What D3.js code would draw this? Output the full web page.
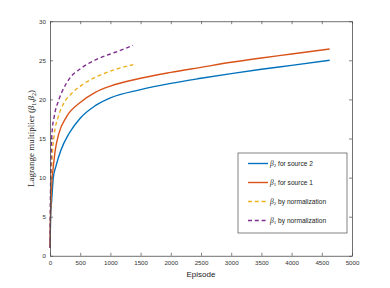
<!DOCTYPE html>
<html>
<head>
<meta charset="utf-8">
<script src="https://cdn.jsdelivr.net/npm/d3@7"></script>
<style>
    body { margin: 0; background: #fff; }
    svg { display: block; }
</style>
</head>
<body>
<div id="chart"></div>
<script>
// values
const src2Episodes = [0, 10, 28, 55, 100, 180, 320, 500, 750, 1000, 1500, 2000, 2500, 3000, 3500, 4000, 4630];
const src2Beta = [1.0, 5.0, 7.1, 10.0, 11.5, 13.5, 15.7, 17.6, 19.2, 20.2, 21.25, 22.05, 22.7, 23.3, 23.85, 24.35, 25.0];

const src1Episodes = [0, 8, 17, 30, 55, 85, 145, 275, 500, 750, 1000, 1500, 2000, 2500, 3000, 3500, 4000, 4630];
const src1Beta = [1.0, 5.0, 7.1, 9.5, 11.4, 13.4, 15.6, 17.8, 19.6, 20.9, 21.7, 22.7, 23.45, 24.1, 24.75, 25.3, 25.8, 26.45];

const norm2Episodes = [0, 10, 28, 70, 130, 220, 350, 520, 800, 1070, 1380];
const norm2Beta = [1.0, 7.0, 11.4, 15.5, 17.6, 19.4, 20.7, 21.8, 23.0, 23.8, 24.45];

const norm1Episodes = [0, 8, 33, 72, 144, 200, 326, 518, 795, 1071, 1375];
const norm1Beta = [1.0, 8.0, 15.7, 17.9, 19.9, 21.0, 22.7, 24.0, 25.2, 26.0, 26.9];

const xTicks = [0, 500, 1000, 1500, 2000, 2500, 3000, 3500, 4000, 4500, 5000];
const yTicks = [0, 5, 10, 15, 20, 25, 30];

const seriesNames = ["2", "1", "2", "1"];
const seriesText = [" for source 2", " for source 1", " by normalization", " by normalization"];
const seriesColors = ["#0072BD", "#D95319", "#EDB120", "#7E2F8E"];
const seriesDashed = [false, false, true, true];

const series = [
    { xs: src2Episodes, ys: src2Beta },
    { xs: src1Episodes, ys: src1Beta },
    { xs: norm2Episodes, ys: norm2Beta },
    { xs: norm1Episodes, ys: norm1Beta },
].map((s, i) => ({
    points: s.xs.map((x, j) => [x, s.ys[j]]),
    sub: seriesNames[i],
    text: seriesText[i],
    color: seriesColors[i],
    dashed: seriesDashed[i],
}));

const width = 390, height = 288;
const margin = { top: 21.2, right: 38, bottom: 32.2, left: 50 };
const axisColor = "#4d4d4d";
const sansFont = "'Liberation Sans', Arial, sans-serif";
const serifFont = "'Liberation Serif', 'DejaVu Serif', serif";

const svg = d3.select("#chart")
    .append("svg")
    .attr("width", width)
    .attr("height", height);

const x = d3.scaleLinear().domain([0, 5000]).range([margin.left, width - margin.right]);
const y = d3.scaleLinear().domain([0, 30]).range([height - margin.bottom, margin.top]);

// curves first, the box and ticks go on top
const line = d3.line()
    .x((d) => x(d[0]))
    .y((d) => y(d[1]))
    .curve(d3.curveMonotoneX);

svg.append("g")
    .selectAll("path")
    .data(series)
    .join("path")
    .attr("d", (d) => line(d.points))
    .attr("fill", "none")
    .attr("stroke", (d) => d.color)
    .attr("stroke-width", 1.4)
    .attr("stroke-dasharray", (d) => (d.dashed ? "4,2.8" : null));

// axes with inward ticks on all four sides
function styleAxis(g) {
    g.select(".domain").attr("stroke", axisColor).attr("stroke-width", 0.8);
    g.selectAll(".tick line").attr("stroke", axisColor).attr("stroke-width", 0.7);
    g.selectAll(".tick text")
        .attr("fill", "#333")
        .style("font-family", sansFont)
        .style("font-size", "6.2px");
}

svg.append("g")
    .attr("transform", `translate(0,${y(0)})`)
    .call(d3.axisBottom(x).tickValues(xTicks).tickFormat(d3.format("d"))
        .tickSize(-3).tickPadding(4).tickSizeOuter(0))
    .call(styleAxis)
    .selectAll(".tick text").attr("dy", "0.9em");

svg.append("g")
    .attr("transform", `translate(0,${y(30)})`)
    .call(d3.axisTop(x).tickValues(xTicks).tickSize(-3).tickFormat("").tickSizeOuter(0))
    .call(styleAxis);

svg.append("g")
    .attr("transform", `translate(${x(0)},0)`)
    .call(d3.axisLeft(y).tickValues(yTicks).tickSize(-3).tickPadding(4).tickSizeOuter(0))
    .call(styleAxis);

svg.append("g")
    .attr("transform", `translate(${x(5000)},0)`)
    .call(d3.axisRight(y).tickValues(yTicks).tickSize(-3).tickFormat("").tickSizeOuter(0))
    .call(styleAxis);

// axis labels
svg.append("text")
    .attr("x", (x(0) + x(5000)) / 2)
    .attr("y", 277)
    .attr("text-anchor", "middle")
    .attr("fill", "#222")
    .style("font-family", sansFont)
    .style("font-size", "8px")
    .text("Episode");

const yLabel = svg.append("text")
    .attr("transform", `translate(34,${(y(0) + y(30)) / 2}) rotate(-90)`)
    .attr("text-anchor", "middle")
    .attr("fill", "#222")
    .style("font-family", serifFont)
    .style("font-size", "9px");
yLabel.append("tspan").text("Lagrange multiplier (");
yLabel.append("tspan").attr("font-style", "italic").text("β");
yLabel.append("tspan").attr("font-size", "6px").attr("dy", 2).text("1");
yLabel.append("tspan").attr("dy", -2).text(",");
yLabel.append("tspan").attr("font-style", "italic").text("β");
yLabel.append("tspan").attr("font-size", "6px").attr("dy", 2).text("2");
yLabel.append("tspan").attr("dy", -2).text(")");

// legend
const legend = svg.append("g").attr("transform", "translate(238,153)");

legend.append("rect")
    .attr("width", 109)
    .attr("height", 80)
    .attr("fill", "#fff")
    .attr("stroke", axisColor)
    .attr("stroke-width", 0.7);

const items = legend.selectAll("g.item")
    .data(series)
    .join("g")
    .attr("class", "item")
    .attr("transform", (d, i) => `translate(0,${10.5 + i * 19})`);

items.append("line")
    .attr("x1", 10)
    .attr("x2", 30)
    .attr("stroke", (d) => d.color)
    .attr("stroke-width", 1.4)
    .attr("stroke-dasharray", (d) => (d.dashed ? "4,2.8" : null));

const itemText = items.append("text")
    .attr("x", 32)
    .attr("dy", "0.32em")
    .attr("fill", "#222")
    .style("font-family", sansFont)
    .style("font-size", "6.6px");
itemText.append("tspan")
    .style("font-family", serifFont)
    .attr("font-style", "italic")
    .style("font-size", "7.5px")
    .text("β");
itemText.append("tspan")
    .style("font-family", serifFont)
    .style("font-size", "5px")
    .attr("dy", 1.8)
    .text((d) => d.sub);
itemText.append("tspan")
    .attr("dy", -1.8)
    .text((d) => d.text);
</script>
</body>
</html>
